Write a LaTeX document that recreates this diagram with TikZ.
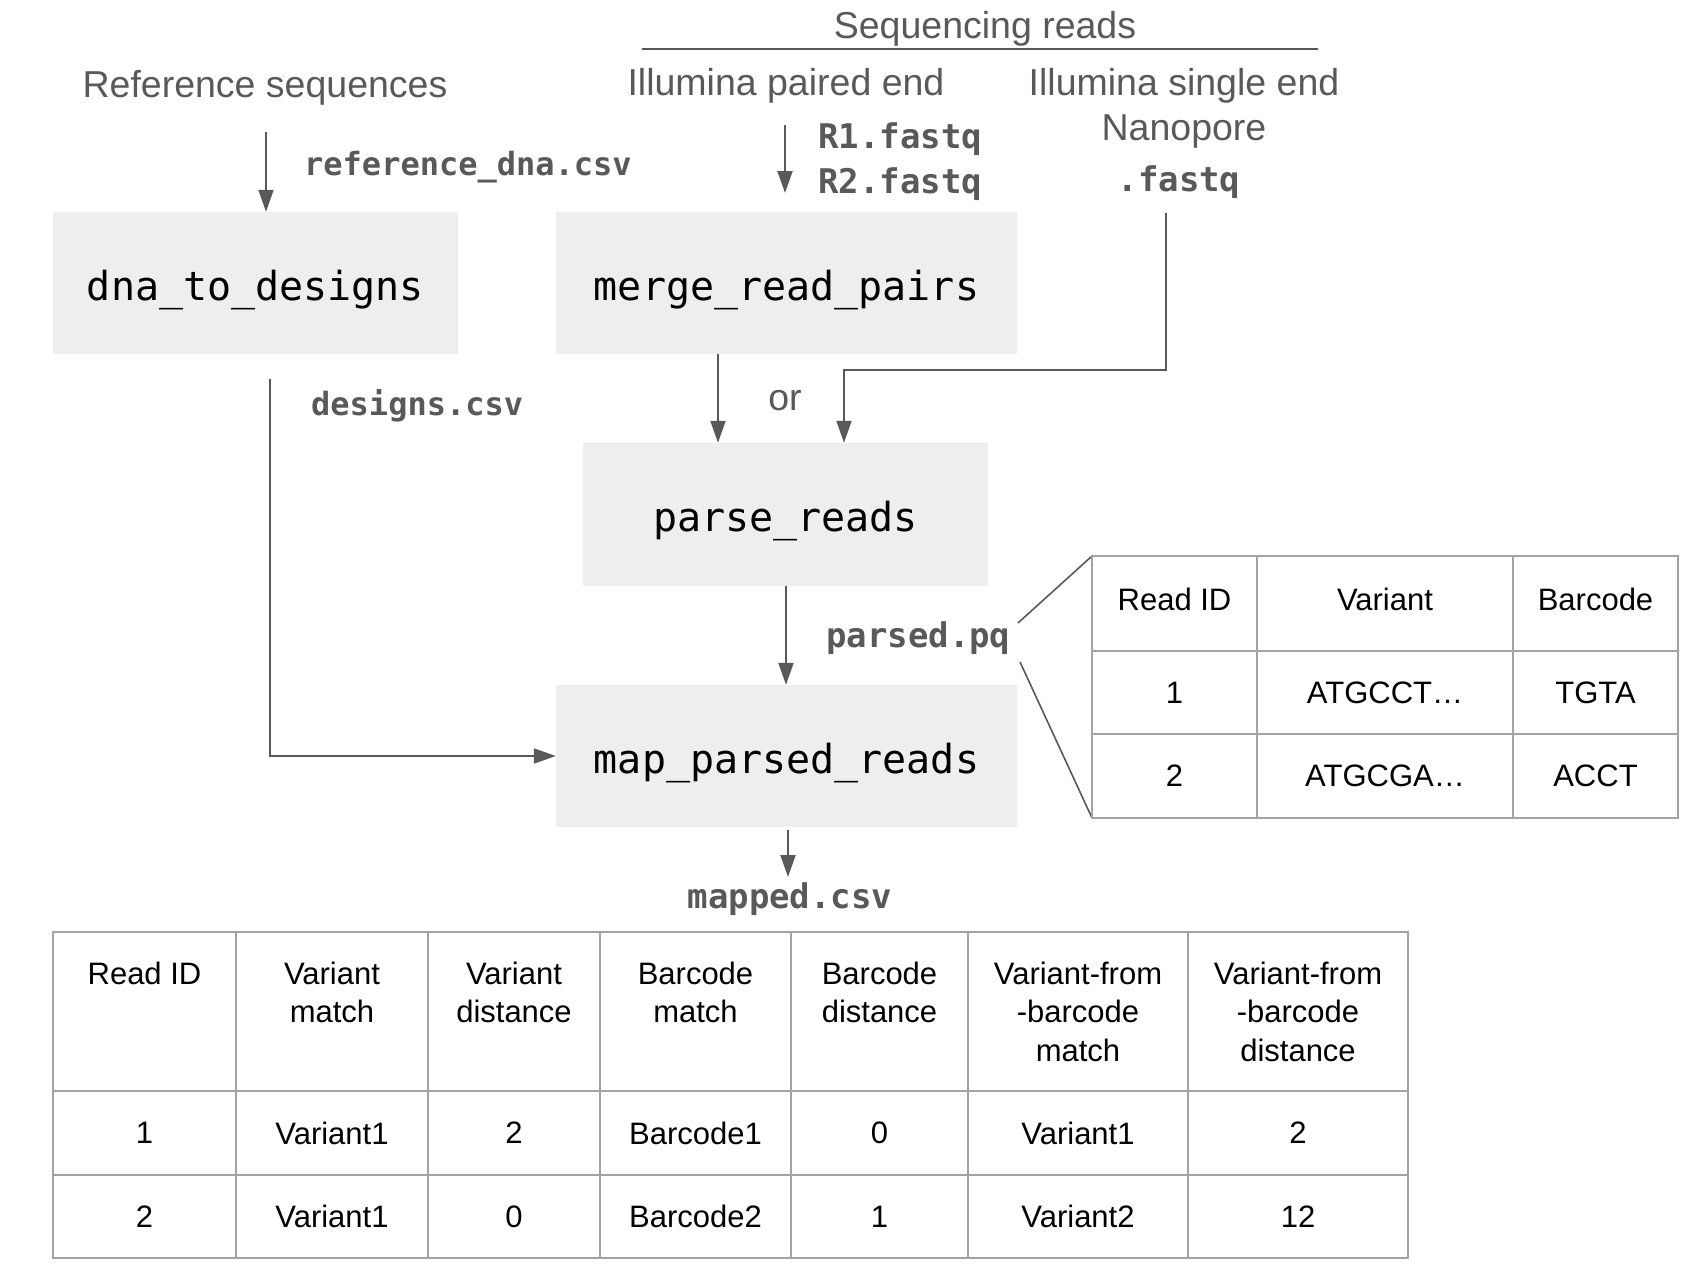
\documentclass[tikz,border=0pt]{standalone}
\usepackage{fontspec}
\setmainfont{Liberation Sans}
\newfontfamily\codefont{DejaVu Sans Mono}
\usetikzlibrary{arrows.meta,calc}
\definecolor{ink}{HTML}{595959}
\definecolor{boxfill}{HTML}{EEEEEE}
\definecolor{gridc}{HTML}{A3A3A3}
\begin{document}
\begin{tikzpicture}[x=1pt,y=-1pt,
  stepbox/.style={fill=boxfill, draw=none, minimum width=#1, minimum height=142, inner sep=0,
    text height=34, text depth=0,
    font=\codefont\fontsize{40}{48}\selectfont},
  head/.style={text=ink, font=\fontsize{37.5}{45}\selectfont, inner sep=0, anchor=base},
  lbl/.style={text=ink, font=\codefont\bfseries\fontsize{34}{40}\selectfont, inner sep=0, anchor=base west},
  lbls/.style={text=ink, font=\codefont\bfseries\fontsize{32}{38}\selectfont, inner sep=0, anchor=base west},
  arr/.style={draw=ink, line width=2, -{Triangle[length=22,width=15]}},
  conn/.style={draw=ink, line width=2},
  zoomline/.style={draw=ink, line width=1.6},
  cell/.style={font=\fontsize{31}{38.5}\selectfont, inner sep=0, align=center},
  hcell/.style={cell, anchor=north},
  gridline/.style={draw=gridc, line width=2.5}
]
\useasboundingbox (0,0) rectangle (1690,1270);

% ---- headings ----
\node[head] (seqreads) at (985,38) {Sequencing reads};
\draw[conn] (642,49) -- (1318,49);
\node[head] (illpe) at (786,95) {Illumina paired end};
\node[head] (illse) at (1184,95) {Illumina single end};
\node[head] (nano) at (1184,140) {Nanopore};
\node[head] (refseq) at (265,97) {Reference sequences};

% ---- step boxes ----
\node[stepbox=405] (dna) at (255.5,283) {dna\_to\_designs};
\node[stepbox=461] (merge) at (786.5,283) {merge\_read\_pairs};
\node[stepbox=405, minimum height=143] (parse) at (785.5,514.5) {parse\_reads};
\node[stepbox=461] (map) at (786.5,756) {map\_parsed\_reads};

% ---- file labels ----
\node[lbls] (refdna) at (304,175) {reference\_dna.csv};
\node[lbl] (r1) at (818,148) {R1.fastq};
\node[lbl] (r2) at (818,193) {R2.fastq};
\node[lbl, anchor=base] (fq) at (1179,191) {.fastq};
\node[lbls] (designs) at (311,415) {designs.csv};
\node[lbl] (parsed) at (826,647) {parsed.pq};
\node[lbl, anchor=base] (mapped) at (790,908) {mapped.csv};
\node[head, anchor=center] (or) at (785,401) {or};

% ---- connectors ----
\coordinate (refstart) at (266,132);
\draw[arr] (refstart) -- (refstart |- dna.north);
\coordinate (pestart) at (785,125);
\coordinate (peend) at (785,193);
\draw[arr] (pestart) -- (peend);
\draw[arr] (718,0 |- merge.south) -- (718,0 |- parse.north);
\coordinate (fqstart) at (1166,213);
\coordinate (fqbend) at (1166,370);
\draw[arr] (fqstart) -- (fqbend) -| (844,0 |- parse.north);
\draw[arr] (786,0 |- parse.south) -- (786,0 |- map.north);
\coordinate (desstart) at (270,379);
\draw[arr] (desstart) |- (map.west);
\coordinate (mapend) at (788,877);
\draw[arr] (788,830) -- (mapend);

% ---- small table (parsed.pq) ----
\coordinate (st-nw) at (1092,556);
\coordinate (st-sw) at (1092,818);
\draw[zoomline] (1018,623) -- (st-nw);
\draw[zoomline] (1020,662) -- (st-sw);
\draw[gridline] (1092,556) rectangle (1678,818);
\foreach \x in {1257,1513} \draw[gridline] (\x,556) -- (\x,818);
\foreach \y in {651,734} \draw[gridline] (1092,\y) -- (1678,\y);
\node[cell] (s-h1) at (1174.5,599) {Read ID};
\node[cell] (s-h2) at (1385,599) {Variant};
\node[cell] (s-h3) at (1595.5,599) {Barcode};
\node[cell] (s-a1) at (1174.5,692.5) {1};
\node[cell] (s-a2) at (1385,692.5) {ATGCCT…};
\node[cell] (s-a3) at (1595.5,692.5) {TGTA};
\node[cell] (s-b1) at (1174.5,776) {2};
\node[cell] (s-b2) at (1385,776) {ATGCGA…};
\node[cell] (s-b3) at (1595.5,776) {ACCT};

% ---- big table (mapped.csv) ----
\draw[gridline] (53,932) rectangle (1408,1258);
\foreach \x in {236,428,600,791,968,1188} \draw[gridline] (\x,932) -- (\x,1258);
\foreach \y in {1091,1175} \draw[gridline] (53,\y) -- (1408,\y);
\node[hcell] (b-h1) at (144.5,961.5) {Read ID};
\node[hcell] (b-h2) at (332,961.5) {Variant\\match};
\node[hcell] (b-h3) at (514,961.5) {Variant\\distance};
\node[hcell] (b-h4) at (695.5,961.5) {Barcode\\match};
\node[hcell] (b-h5) at (879.5,961.5) {Barcode\\distance};
\node[hcell] (b-h6) at (1078,961.5) {Variant-from\\-barcode\\match};
\node[hcell] (b-h7) at (1298,961.5) {Variant-from\\-barcode\\distance};
\node[cell] (b-a1) at (144.5,1133) {1};
\node[cell] (b-a2) at (332,1133) {Variant1};
\node[cell] (b-a3) at (514,1133) {2};
\node[cell] (b-a4) at (695.5,1133) {Barcode1};
\node[cell] (b-a5) at (879.5,1133) {0};
\node[cell] (b-a6) at (1078,1133) {Variant1};
\node[cell] (b-a7) at (1298,1133) {2};
\node[cell] (b-b1) at (144.5,1216.5) {2};
\node[cell] (b-b2) at (332,1216.5) {Variant1};
\node[cell] (b-b3) at (514,1216.5) {0};
\node[cell] (b-b4) at (695.5,1216.5) {Barcode2};
\node[cell] (b-b5) at (879.5,1216.5) {1};
\node[cell] (b-b6) at (1078,1216.5) {Variant2};
\node[cell] (b-b7) at (1298,1216.5) {12};
\end{tikzpicture}
\end{document}
